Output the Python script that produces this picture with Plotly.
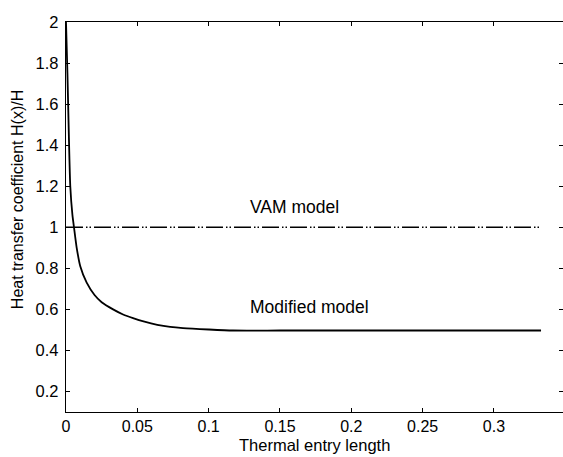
import plotly.graph_objects as go

# Data
x_mod = [0, 0.001, 0.002, 0.003, 0.0045, 0.0056, 0.0075, 0.01, 0.0145, 0.02, 0.025,
         0.033, 0.04, 0.047, 0.055, 0.064, 0.073, 0.082, 0.1, 0.117, 0.15, 0.2,
         0.25, 0.3, 0.333]
y_mod = [2.0, 1.75, 1.45, 1.2, 1.06, 1.0, 0.9, 0.81, 0.73, 0.67, 0.635,
         0.6, 0.575, 0.557, 0.54, 0.525, 0.515, 0.509, 0.502, 0.497, 0.497, 0.497,
         0.497, 0.497, 0.497]
x_vam = [0, 0.333]
y_vam = [1.0, 1.0]

x_ticks = [0, 0.05, 0.1, 0.15, 0.2, 0.25, 0.3]
x_ticktext = ["0", "0.05", "0.1", "0.15", "0.2", "0.25", "0.3"]
y_ticks = [0.2, 0.4, 0.6, 0.8, 1.0, 1.2, 1.4, 1.6, 1.8, 2.0]
y_ticktext = ["0.2", "0.4", "0.6", "0.8", "1", "1.2", "1.4", "1.6", "1.8", "2"]

FONT = "Liberation Sans, Arial, sans-serif"

fig = go.Figure()
fig.add_trace(go.Scatter(x=x_vam, y=y_vam, mode="lines",
                         line=dict(color="black", width=1.4, dash="17px,3px,1.5px,2px,1.5px,3px"),
                         showlegend=False, hoverinfo="skip"))
fig.add_trace(go.Scatter(x=x_mod, y=y_mod, mode="lines",
                         line=dict(color="black", width=1.8, shape="spline", smoothing=0.6),
                         showlegend=False, hoverinfo="skip"))
# empty trace to activate the right-hand tick axis
fig.add_trace(go.Scatter(x=[], y=[], yaxis="y2", showlegend=False, hoverinfo="skip"))

fig.update_layout(
    width=563, height=457,
    margin=dict(l=66, r=0, t=22, b=45),
    paper_bgcolor="white", plot_bgcolor="white",
    font=dict(family=FONT, size=16, color="black"),
    xaxis=dict(range=[0, 0.3484], tickvals=x_ticks, ticktext=x_ticktext,
               ticks="inside", ticklen=4, tickwidth=1, tickcolor="black",
               showline=True, linecolor="black", linewidth=1.4, mirror="ticks",
               showgrid=False, zeroline=False, tickfont=dict(size=16)),
    yaxis=dict(range=[0.1, 2.0], tickvals=y_ticks, ticktext=y_ticktext,
               ticks="inside", ticklen=4, tickwidth=1, tickcolor="black",
               showline=True, linecolor="black", linewidth=1.4, mirror=False,
               showgrid=False, zeroline=False, tickfont=dict(size=16.5),
               ticklabelstandoff=3),
    yaxis2=dict(range=[0.1, 2.0], tickvals=y_ticks, overlaying="y", side="right",
                ticks="inside", ticklen=4, tickwidth=1, tickcolor="black",
                showline=False, showticklabels=False, showgrid=False, zeroline=False),
    annotations=[
        dict(x=0.1605, y=1.099, xref="x", yref="y", text="VAM model", showarrow=False,
             font=dict(size=17.5)),
        dict(x=0.171, y=0.612, xref="x", yref="y", text="Modified model", showarrow=False,
             font=dict(size=17.5)),
        dict(x=0.5, y=-0.085, xref="paper", yref="paper", text="Thermal entry length",
             showarrow=False, font=dict(size=16.5), yanchor="middle"),
        dict(x=-0.096, y=0.544, xref="paper", yref="paper",
             text="Heat transfer coefficient H(x)/H", textangle=-90, showarrow=False,
             font=dict(size=16), xanchor="center", yanchor="middle"),
    ],
)

fig.write_html("out.html")
